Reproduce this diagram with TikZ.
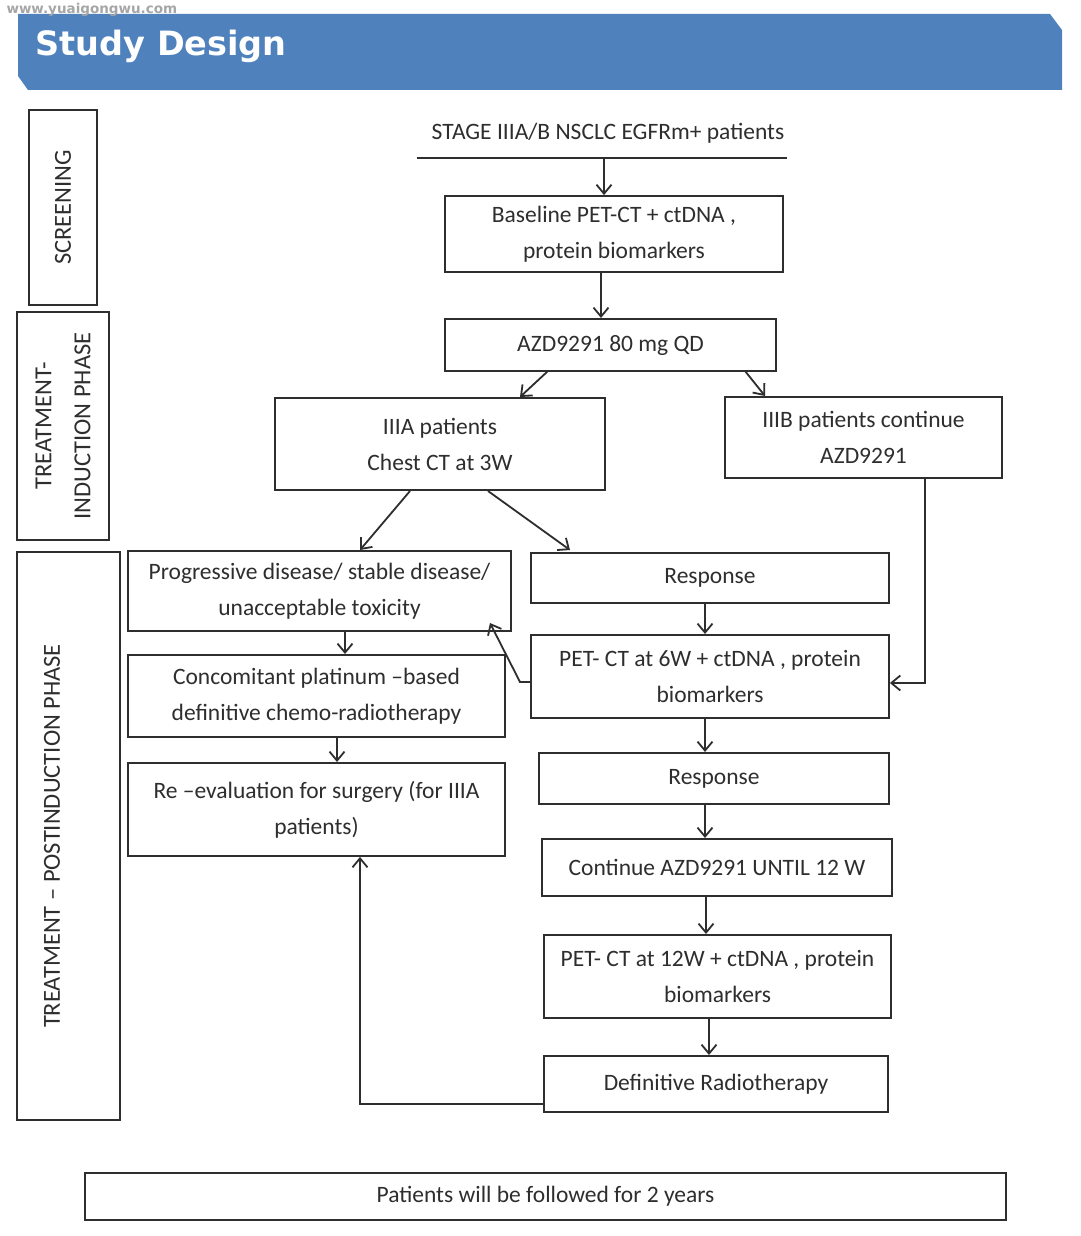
\documentclass[tikz,border=0pt]{standalone}
\usepackage{fontspec}
\setmainfont{Carlito}
\newfontfamily\titlefont{DejaVu Sans}
\usetikzlibrary{arrows.meta}
\definecolor{ink}{HTML}{2E2E2E}
\definecolor{banner}{HTML}{4F81BD}
\begin{document}
\begin{tikzpicture}[x=1pt,y=-1pt,
  bx/.style={draw=ink,line width=1.8pt,inner sep=0pt,align=center,text=ink,
     font=\fontsize{23.5}{36}\selectfont},
  phase/.style={draw=ink,line width=1.8pt,inner sep=0pt,align=center,text=ink},
  ptext/.style={rotate=90,text=ink,align=center,font=\fontsize{24.5}{39}\selectfont},
  arr/.style={draw=ink,line width=1.8pt,-{Straight Barb[length=9pt,width=15pt,line width=1.8pt]}},
  ln/.style={draw=ink,line width=1.8pt}]
\useasboundingbox (0,0) rectangle (1080,1236);
\fill[white] (0,0) rectangle (1080,1236);
% banner
\fill[banner] (18,14) -- (1050,14) -- (1062,30) -- (1062,90) -- (28,90) -- (18,76) -- cycle;
\node[anchor=west,text=white,font=\titlefont\bfseries\fontsize{33.5}{36}\selectfont] (title) at (32,46) {Study Design};
\node[anchor=west,text=gray!70,font=\titlefont\bfseries\fontsize{13.5}{14}\selectfont] (wm) at (3,10) {www.yuaigongwu.com};
% phases
\node[phase,minimum width=68,minimum height=195] (p1) at (63,207.5) {};
\node[ptext] (p1t) at (p1.center) {SCREENING};
\node[phase,minimum width=92,minimum height=228] (p2) at (63,426) {};
\node[ptext] (p2t) at (p2.center) {TREATMENT-\\INDUCTION PHASE};
\node[phase,minimum width=103,minimum height=568] (p3) at (68.5,836) {};
\node[ptext] (p3t) at (52,836) {TREATMENT -- POSTINDUCTION PHASE};
% top text
\node[text=ink,font=\fontsize{23.5}{36}\selectfont] (top) at (608,133) {STAGE IIIA/B NSCLC EGFRm+ patients};
\coordinate (ul) at (417,158);
\coordinate (ur) at (787,158);
\draw[ln] (ul) -- (ur);
\coordinate (topa) at (604,158);
% boxes
\node[bx,minimum width=338,minimum height=76] (b1) at (614,234) {Baseline PET-CT + ctDNA ,\\protein biomarkers};
\node[bx,minimum width=331,minimum height=52] (b2) at (610.5,345) {AZD9291 80 mg QD};
\node[bx,minimum width=330,minimum height=92] (b3) at (440,444) {IIIA patients\\Chest CT at 3W};
\node[bx,minimum width=277,minimum height=81] (b4) at (863.5,437.5) {IIIB patients continue\\AZD9291};
\node[bx,minimum width=383,minimum height=80] (b5) at (319.5,591) {Progressive disease/ stable disease/\\unacceptable toxicity};
\node[bx,minimum width=358,minimum height=50] (b6) at (710,578) {Response};
\node[bx,minimum width=358,minimum height=83] (b7) at (710,676.5) {PET- CT at 6W + ctDNA , protein\\biomarkers};
\node[bx,minimum width=377,minimum height=82] (b8) at (316.5,696) {Concomitant platinum --based\\definitive chemo-radiotherapy};
\node[bx,minimum width=377,minimum height=93] (b9) at (316.5,809.5) {Re --evaluation for surgery (for IIIA\\patients)};
\node[bx,minimum width=350,minimum height=51] (b10) at (714,778.5) {Response};
\node[bx,minimum width=350,minimum height=57] (b11) at (717,867.5) {Continue AZD9291 UNTIL 12 W};
\node[bx,minimum width=347,minimum height=83] (b12) at (717.5,976.5) {PET- CT at 12W + ctDNA , protein\\biomarkers};
\node[bx,minimum width=344,minimum height=56] (b13) at (716,1084) {Definitive Radiotherapy};
\node[bx,minimum width=921,minimum height=47] (b14) at (545.5,1196.5) {Patients will be followed for 2 years};
% arrows
\draw[arr] (topa) -- (topa |- b1.north);
\draw[arr] (601,272) -- (601,318);
\draw[arr] (548,371) -- (520,397);
\draw[arr] (745,371) -- (765,396);
\draw[arr] (410,491) -- (360,550);
\draw[arr] (488,491) -- (570,550);
\draw[arr] (705,603) -- (705,634);
\coordinate (c4) at (925,683);
\draw[arr] (925,478) -- (c4) -- (c4 -| b7.east);
\coordinate (c7) at (520,682);
\draw[arr] (b7.west |- c7) -- (c7) -- (490,623);
\draw[arr] (345,631) -- (345,654);
\draw[arr] (337,737) -- (337,762);
\draw[arr] (705,718) -- (705,752);
\draw[arr] (705,804) -- (705,838);
\draw[arr] (706,896) -- (706,934);
\draw[arr] (709,1018) -- (709,1055);
\coordinate (c13) at (360,1104);
\draw[arr] (b13.west |- c13) -- (c13) -- (c13 |- b9.south);
\end{tikzpicture}
\end{document}
